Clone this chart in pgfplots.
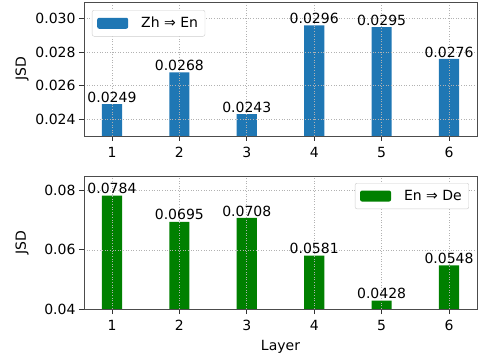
\documentclass[border=0pt]{standalone}
\usepackage{pgfplots}
\pgfplotsset{compat=1.18}
\usepackage{fontspec}
\setmainfont{DejaVu Sans}
\newcommand\fs{\fontsize{14bp}{16.8bp}\selectfont}
\definecolor{mblue}{HTML}{1F77B4}
\definecolor{mgreen}{HTML}{008000}
\pgfplotsset{
  jsd/.style={
    width=393bp, scale only axis,
    xmin=0.585, xmax=6.415,
    xtick={1,2,3,4,5,6},
    tick align=outside, tick pos=left,
    major tick length=5bp,
    grid=major,
    major grid style={black!30, line width=0.7bp, dash pattern=on 1bp off 1.6bp},
    axis line style={black!70, line width=0.8bp},
    every tick/.style={black!80, line width=0.8bp},
    axis on top,
    ticklabel style={font=\fs},
    xticklabel style={yshift=-3bp},
    label style={font=\fs},
    /pgf/number format/assume math mode=true,
    scaled y ticks=false,
    ybar, bar width=0.3,
    legend style={font=\fs, draw=black!20, rounded corners=2bp, fill=white, inner xsep=5bp, inner ysep=5bp, /tikz/column sep=11bp},
    legend image code/.code={\fill[##1] (0bp,-5.5bp) rectangle (31bp,5.5bp);},
    nodes near coords={\pgfmathprintnumber[fixed,fixed zerofill,precision=4,assume math mode=true]{\pgfplotspointmeta}},
    every node near coord/.append style={font=\fs, text=black, inner sep=1.5bp},
    ylabel style={at={(axis description cs:0,0.5)}, anchor=center, yshift=62bp},
  }
}
\begin{document}
\begin{tikzpicture}
\useasboundingbox (-84bp,2bp) rectangle (394bp,-361bp);
\begin{axis}[jsd,
  at={(0,0)}, anchor=north west,
  height=134bp,
  ymin=0.023, ymax=0.031,
  ytick={0.024,0.026,0.028,0.030},
  yticklabel style={/pgf/number format/.cd, fixed, fixed zerofill, precision=3},
  ylabel={JSD},
  legend style={at={(axis description cs:0,1)}, anchor=north west, xshift=8bp, yshift=-8bp},
]
\addplot[fill=mblue, draw=none] coordinates {(1,0.0249) (2,0.0268) (3,0.0243) (4,0.0296) (5,0.0295) (6,0.0276)};
\addlegendentry{Zh ⇒ En}
\end{axis}
\begin{axis}[jsd,
  at={(0,-174bp)}, anchor=north west,
  height=133bp,
  ymin=0.04, ymax=0.085,
  ytick={0.04,0.06,0.08},
  yticklabel style={/pgf/number format/.cd, fixed, fixed zerofill, precision=2},
  ylabel={JSD},
  xlabel={Layer},
  xlabel style={at={(axis description cs:0.5,0)}, anchor=center, yshift=-38bp},
  legend style={at={(axis description cs:1,1)}, anchor=north east, xshift=-8bp, yshift=-7bp},
]
\addplot[fill=mgreen, draw=none] coordinates {(1,0.0784) (2,0.0695) (3,0.0708) (4,0.0581) (5,0.0428) (6,0.0548)};
\addlegendentry{En ⇒ De}
\end{axis}
\end{tikzpicture}
\end{document}
